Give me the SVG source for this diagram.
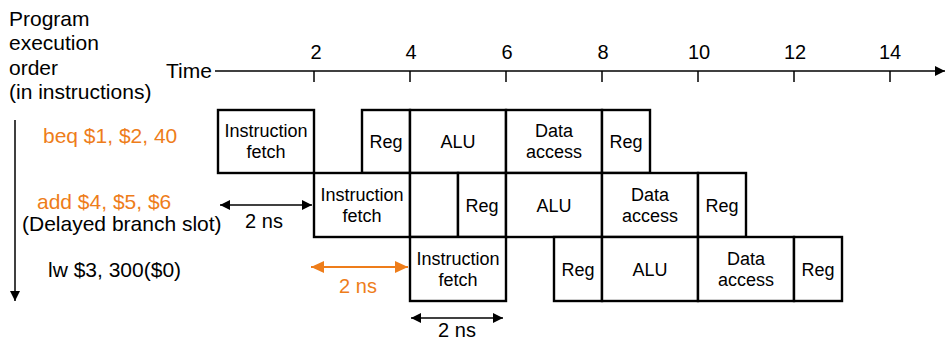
<svg xmlns="http://www.w3.org/2000/svg" width="945" height="342" viewBox="0 0 945 342">
<style>
text{font-family:"Liberation Sans",Arial,sans-serif;fill:#000}
.lbl{font-size:21px}
.num{font-size:20px;text-anchor:middle}
.bx{font-size:18px;text-anchor:middle}
.or{fill:#EE7D1A}
.box{fill:#fff;stroke:#000;stroke-width:2.4}
.ln{stroke:#000;stroke-width:1.5;fill:none}
</style>
<defs>
<marker id="ah" viewBox="0 0 10 10" refX="10" refY="5" markerWidth="10" markerHeight="10" markerUnits="userSpaceOnUse" orient="auto-start-reverse"><path d="M0,0 L10,5 L0,10 Z" fill="#000"/></marker>
<marker id="aho" viewBox="0 0 13 12" refX="13" refY="6" markerWidth="13" markerHeight="12" markerUnits="userSpaceOnUse" orient="auto-start-reverse"><path d="M0,0 L13,6 L0,12 Z" fill="#EE7D1A"/></marker>
</defs>

<g id="labels">
<text class="lbl" x="9" y="26">Program</text>
<text class="lbl" x="9" y="50">execution</text>
<text class="lbl" x="9" y="75">order</text>
<text class="lbl" x="9" y="99">(in instructions)</text>
<text class="lbl" x="166" y="78">Time</text>
<text class="lbl or" x="43" y="143">beq $1, $2, 40</text>
<text class="lbl or" x="37" y="209">add $4, $5, $6</text>
<text class="lbl" x="22" y="231">(Delayed branch slot)</text>
<text class="lbl" x="48" y="277">lw $3, 300($0)</text>
</g>

<g id="axis">
<line class="ln" x1="215" y1="71" x2="945" y2="71" marker-end="url(#ah)"/>
<line class="ln" x1="314" y1="71" x2="314" y2="82"/>
<line class="ln" x1="410" y1="71" x2="410" y2="82"/>
<line class="ln" x1="506" y1="71" x2="506" y2="82"/>
<line class="ln" x1="602" y1="71" x2="602" y2="82"/>
<line class="ln" x1="698" y1="71" x2="698" y2="82"/>
<line class="ln" x1="794" y1="71" x2="794" y2="82"/>
<line class="ln" x1="890" y1="71" x2="890" y2="82"/>
<text class="num" x="316" y="59">2</text>
<text class="num" x="411" y="59">4</text>
<text class="num" x="507" y="59">6</text>
<text class="num" x="603" y="59">8</text>
<text class="num" x="699" y="59">10</text>
<text class="num" x="795" y="59">12</text>
<text class="num" x="890" y="59">14</text>
</g>

<g id="row1">
<rect class="box" x="218" y="110" width="96" height="63"/>
<text class="bx" x="266" y="137">Instruction</text>
<text class="bx" x="266" y="158">fetch</text>
<rect class="box" x="362" y="110" width="48" height="63"/>
<text class="bx" x="386" y="148">Reg</text>
<rect class="box" x="410" y="110" width="96" height="63"/>
<text class="bx" x="458" y="148">ALU</text>
<rect class="box" x="506" y="110" width="96" height="63"/>
<text class="bx" x="554" y="137">Data</text>
<text class="bx" x="554" y="158">access</text>
<rect class="box" x="602" y="110" width="48" height="63"/>
<text class="bx" x="626" y="148">Reg</text>
</g>

<g id="row2">
<rect class="box" x="314" y="173" width="96" height="64"/>
<text class="bx" x="362" y="201">Instruction</text>
<text class="bx" x="362" y="222">fetch</text>
<rect class="box" x="410" y="173" width="48" height="64"/>
<rect class="box" x="458" y="173" width="48" height="64"/>
<text class="bx" x="482" y="212">Reg</text>
<rect class="box" x="506" y="173" width="96" height="64"/>
<text class="bx" x="554" y="212">ALU</text>
<rect class="box" x="602" y="173" width="96" height="64"/>
<text class="bx" x="650" y="201">Data</text>
<text class="bx" x="650" y="222">access</text>
<rect class="box" x="698" y="173" width="48" height="64"/>
<text class="bx" x="722" y="212">Reg</text>
</g>

<g id="row3">
<rect class="box" x="410" y="237" width="96" height="64"/>
<text class="bx" x="458" y="265">Instruction</text>
<text class="bx" x="458" y="286">fetch</text>
<rect class="box" x="554" y="237" width="48" height="64"/>
<text class="bx" x="578" y="276">Reg</text>
<rect class="box" x="602" y="237" width="96" height="64"/>
<text class="bx" x="650" y="276">ALU</text>
<rect class="box" x="698" y="237" width="96" height="64"/>
<text class="bx" x="746" y="265">Data</text>
<text class="bx" x="746" y="286">access</text>
<rect class="box" x="794" y="237" width="48" height="64"/>
<text class="bx" x="818" y="276">Reg</text>
</g>

<g id="connectors">
<line class="ln" x1="15" y1="120" x2="15" y2="301" marker-end="url(#ah)"/>
<line class="ln" x1="220" y1="205" x2="312" y2="205" marker-start="url(#ah)" marker-end="url(#ah)"/>
<text class="num" x="264" y="228">2 ns</text>
<line x1="311" y1="267" x2="408" y2="267" stroke="#EE7D1A" stroke-width="2" marker-start="url(#aho)" marker-end="url(#aho)"/>
<text class="num or" x="358" y="293">2 ns</text>
<line class="ln" x1="411" y1="318" x2="503" y2="318" marker-start="url(#ah)" marker-end="url(#ah)"/>
<text class="num" x="457" y="337">2 ns</text>
</g>
</svg>
